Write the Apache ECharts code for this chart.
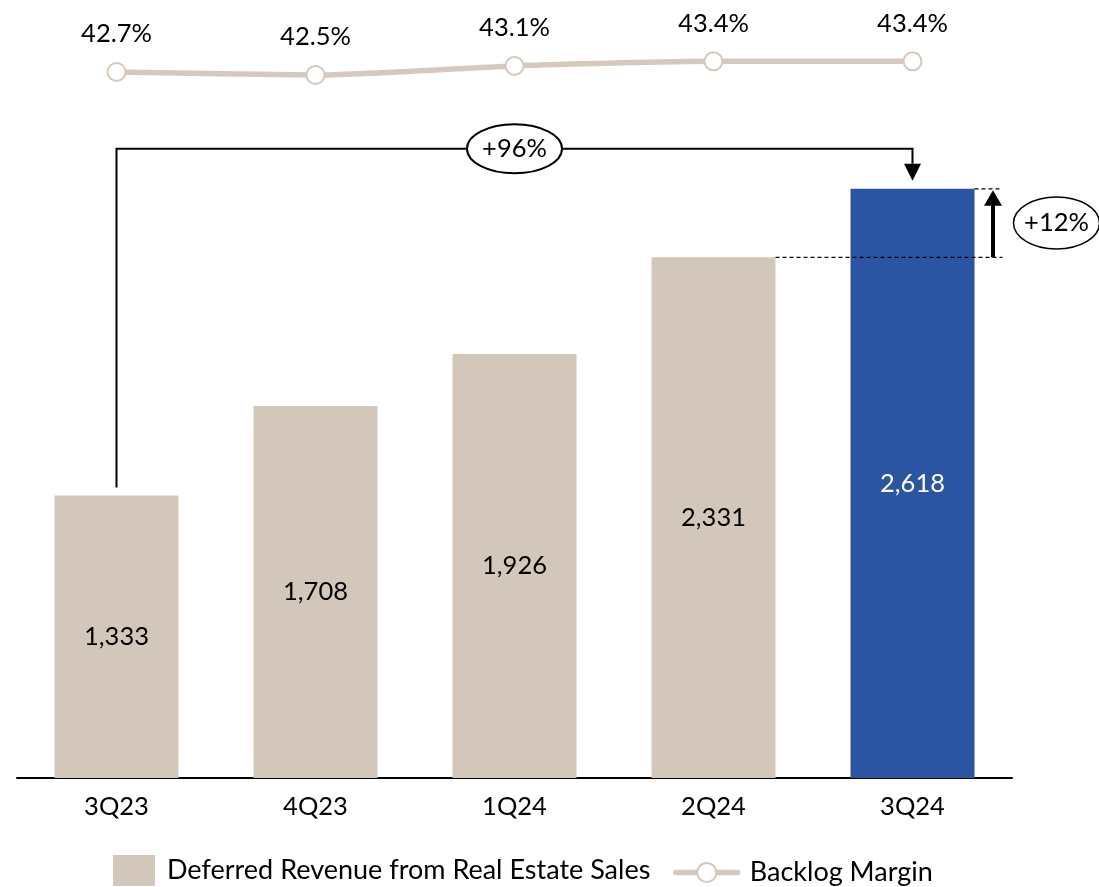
<!DOCTYPE html>
<html><head><meta charset="utf-8">
<script src="https://cdn.jsdelivr.net/npm/echarts@6/dist/echarts.min.js"></script>
<style>html,body{margin:0;padding:0;background:#fff}#c{width:1099px;height:887px}</style>
</head><body><div id="c"></div>
<script>
const categories = ['3Q23', '4Q23', '1Q24', '2Q24', '3Q24'];
const deferredRevenue = [1333, 1708, 1926, 2331, 2618];
const backlogMargin = [42.7, 42.5, 43.1, 43.4, 43.4];
const yearGrowthLabel = '+96%';
const quarterGrowthLabel = '+12%';
const seriesNames = ['Deferred Revenue from Real Estate Sales', 'Backlog Margin'];

const FONT = 'Lato, "Open Sans", sans-serif';
const BEIGE = '#D3C7BB', BLUE = '#2B55A3', LINEC = '#D5C9BD';
const last = deferredRevenue.length - 1;

const chart = echarts.init(document.getElementById('c'), null, {renderer: 'canvas'});

chart.setOption({
  backgroundColor: '#fff',
  animation: false,
  textStyle: {fontFamily: FONT},
  grid: [
    {left: 17, right: 87, top: 100, bottom: 109},
    {left: 17, right: 87, top: 52.2, height: 30.4}
  ],
  xAxis: [
    {type: 'category', data: categories, gridIndex: 0,
     axisLine: {onZero: false, lineStyle: {color: '#000', width: 2}},
     axisTick: {show: false},
     axisLabel: {color: '#000', fontSize: 25.5, fontFamily: FONT, margin: 16}},
    {type: 'category', data: categories, gridIndex: 1, show: false}
  ],
  yAxis: [
    {type: 'value', gridIndex: 0, min: 150, max: 2990, show: false, splitLine: {show: false}},
    {type: 'value', gridIndex: 1, min: 42, max: 44, show: false, splitLine: {show: false}}
  ],
  legend: [
    {data: [{name: seriesNames[0], icon: 'rect'}], left: 113, top: 855, itemWidth: 42, itemHeight: 31,
     padding: 0, selectedMode: false,
     textStyle: {color: '#000', fontSize: 27, fontFamily: FONT, padding: [0, 0, 0, 7]}},
    {data: [{name: seriesNames[1]}], left: 673, top: 859, itemWidth: 62, itemHeight: 24,
     padding: 0, selectedMode: false,
     lineStyle: {color: LINEC, width: 5.5, cap: 'round'},
     itemStyle: {color: '#fff', borderColor: LINEC, borderWidth: 2},
     textStyle: {color: '#000', fontSize: 27, fontFamily: FONT, padding: [0, 0, 0, 7]}}
  ],
  series: [
    {name: seriesNames[0], type: 'bar', xAxisIndex: 0, yAxisIndex: 0, barWidth: 124,
     itemStyle: {color: BEIGE},
     data: deferredRevenue.map((v, i) => ({
       value: v,
       itemStyle: {color: i === last ? BLUE : BEIGE},
       label: {color: i === last ? '#fff' : '#000'}
     })),
     label: {show: true, position: 'inside', fontSize: 25.5, fontFamily: FONT,
       formatter: p => p.value.toLocaleString('en-US')}},
    {name: seriesNames[1], type: 'line', xAxisIndex: 1, yAxisIndex: 1, data: backlogMargin,
     smooth: 0.2, symbol: 'circle', symbolSize: 18,
     lineStyle: {color: LINEC, width: 5.5},
     itemStyle: {color: '#fff', borderColor: LINEC, borderWidth: 2},
     label: {show: true, position: 'top', distance: 15, color: '#000', fontSize: 25.5, fontFamily: FONT,
       formatter: p => p.value.toFixed(1) + '%'}}
  ]
});

function px(i, v) { return chart.convertToPixel({xAxisIndex: 0, yAxisIndex: 0}, [i, v]); }
const p0 = px(0, deferredRevenue[0]);
const pMid = px(2, deferredRevenue[2]);
const p3 = px(3, deferredRevenue[3]);
const p4 = px(4, deferredRevenue[4]);
const bracketY = p4[1] - 40;
const halfBar = 62;
const upX = p4[0] + 80.5;
const dashEnd = p4[0] + 90;
const midY = (p3[1] + p4[1]) / 2;
const txt = {fill: '#000', font: '25.5px ' + FONT, align: 'center', verticalAlign: 'middle', textAlign: 'center', textVerticalAlign: 'middle'};

chart.setOption({
  graphic: [
    {type: 'polyline', z: 10, shape: {points: [[p0[0], p0[1] - 8], [p0[0], bracketY], [p4[0], bracketY], [p4[0], p4[1] - 25]]},
     style: {stroke: '#000', lineWidth: 2, fill: null}},
    {type: 'polygon', z: 10, shape: {points: [[p4[0] - 8.5, p4[1] - 25], [p4[0] + 8.5, p4[1] - 25], [p4[0], p4[1] - 8]]},
     style: {fill: '#000'}},
    {type: 'ellipse', z: 11, shape: {cx: pMid[0], cy: bracketY, rx: 47.5, ry: 24.5},
     style: {fill: '#fff', stroke: '#000', lineWidth: 2}},
    {type: 'text', z: 12, style: Object.assign({text: yearGrowthLabel, x: pMid[0], y: bracketY}, txt)},
    {type: 'line', z: 10, shape: {x1: p3[0] + halfBar, y1: p3[1], x2: dashEnd, y2: p3[1]},
     style: {stroke: '#000', lineWidth: 1.3, lineDash: [4, 3]}},
    {type: 'line', z: 10, shape: {x1: p4[0] + halfBar, y1: p4[1], x2: dashEnd, y2: p4[1]},
     style: {stroke: '#000', lineWidth: 1.3, lineDash: [4, 3]}},
    {type: 'line', z: 10, shape: {x1: upX, y1: p3[1], x2: upX, y2: p4[1] + 16},
     style: {stroke: '#000', lineWidth: 4}},
    {type: 'polygon', z: 10, shape: {points: [[upX - 9, p4[1] + 17], [upX + 9, p4[1] + 17], [upX, p4[1] + 1.5]]},
     style: {fill: '#000'}},
    {type: 'ellipse', z: 11, shape: {cx: p4[0] + 144, cy: midY, rx: 43, ry: 26},
     style: {fill: '#fff', stroke: '#000', lineWidth: 1.5}},
    {type: 'text', z: 12, style: Object.assign({text: quarterGrowthLabel, x: p4[0] + 144, y: midY}, txt)}
  ]
});
</script></body></html>
